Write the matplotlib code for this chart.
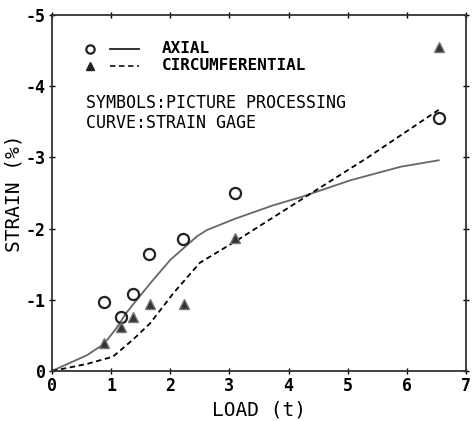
import numpy as np
import matplotlib
matplotlib.use('Agg')
import matplotlib.pyplot as plt

plt.rcParams['font.family'] = 'DejaVu Sans Mono'
plt.rcParams['axes.unicode_minus'] = False

# picture processing points
axial_load = [0.88, 1.17, 1.37, 1.64, 2.22, 3.10, 6.54]
axial_strain = [-0.97, -0.76, -1.08, -1.64, -1.85, -2.50, -3.56]
circ_load = [0.88, 1.17, 1.37, 1.66, 2.24, 3.10, 6.54]
circ_strain = [-0.39, -0.62, -0.76, -0.94, -0.94, -1.87, -4.55]

# strain gage curves
gage_ax_load = [0, 0.59, 0.88, 1.07, 1.27, 1.66, 2.0, 2.45, 2.62, 3.1, 3.75, 4.2, 5.05, 5.9, 6.54]
gage_ax_strain = [0, -0.22, -0.38, -0.58, -0.83, -1.23, -1.56, -1.89, -1.98, -2.14, -2.33, -2.44, -2.68, -2.87, -2.96]
gage_ci_load = [0, 0.25, 0.6, 1.03, 1.37, 1.66, 2.05, 2.5, 3.1, 4.2, 5.34, 6.54]
gage_ci_strain = [0, -0.04, -0.1, -0.2, -0.44, -0.67, -1.09, -1.52, -1.82, -2.4, -3.0, -3.67]

fig = plt.figure(figsize=(4.73, 4.21), dpi=100)
ax = fig.add_axes([0.110, 0.119, 0.875, 0.845])

ax.plot(gage_ax_load, gage_ax_strain, '-', color='#666666', lw=1.3)
ax.plot(gage_ci_load, gage_ci_strain, '--', color='black', lw=1.3, dashes=(3, 2))
ax.plot(axial_load, axial_strain, 'o', ms=8, mfc='none', mec='#222222', mew=1.6)
ax.plot(circ_load, circ_strain, '^', ms=7, mfc='#333333', mec='#777777', mew=1)

ax.set_xlim(0, 7)
ax.set_ylim(0, -5)
ax.set_xticks(range(0, 8))
ax.set_yticks([0, -1, -2, -3, -4, -5])
ax.tick_params(direction='inout', length=5, width=1, top=True, right=True,
               labelsize=12, pad=2)
for lab in ax.get_xticklabels() + ax.get_yticklabels():
    lab.set_fontweight('bold')
for s in ax.spines.values():
    s.set_linewidth(1.3)
    s.set_color('#333333')

ax.set_xlabel('LOAD (t)', fontsize=14, labelpad=4)
ax.set_ylabel('STRAIN (%)', fontsize=14, labelpad=2)

# legend, drawn by hand
ax.plot([0.092], [0.905], 'o', ms=6, mfc='none', mec='#222222', mew=1.6, transform=ax.transAxes, clip_on=False)
ax.plot([0.14, 0.21], [0.905, 0.905], '-', color='#222222', lw=1.3, transform=ax.transAxes)
ax.plot([0.092], [0.858], '^', ms=6, color='#222222', transform=ax.transAxes)
ax.plot([0.14, 0.21], [0.858, 0.858], '--', color='#222222', lw=1.3, dashes=(3, 2), transform=ax.transAxes)
ax.text(0.266, 0.905, 'AXIAL', fontsize=11.5, fontweight='bold', va='center', transform=ax.transAxes)
ax.text(0.266, 0.858, 'CIRCUMFERENTIAL', fontsize=11.5, fontweight='bold', va='center', transform=ax.transAxes)
ax.text(0.082, 0.753, 'SYMBOLS:PICTURE PROCESSING', fontsize=12, va='center', transform=ax.transAxes)
ax.text(0.082, 0.697, 'CURVE:STRAIN GAGE', fontsize=12, va='center', transform=ax.transAxes)

fig.savefig('out.png', dpi=100)
